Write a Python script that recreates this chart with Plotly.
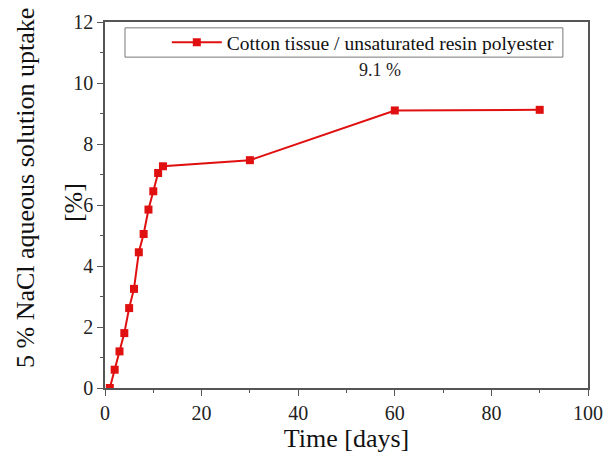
import plotly.graph_objects as go

days = [1, 2, 3, 4, 5, 6, 7, 8, 9, 10, 11, 12, 30, 60, 90]
uptake = [0.0, 0.6, 1.2, 1.8, 2.62, 3.25, 4.45, 5.05, 5.85, 6.45, 7.05, 7.27, 7.47, 9.1, 9.12]
series_name = "Cotton tissue / unsaturated resin polyester"
x_ticks = [0, 20, 40, 60, 80, 100]
y_ticks = [0, 2, 4, 6, 8, 10, 12]

RED = "#e01010"
AX = "#555555"
FONT = "'Times New Roman', 'Liberation Serif', 'DejaVu Serif', serif"

fig = go.Figure()
fig.add_trace(go.Scatter(
    x=days, y=uptake, mode="lines+markers", name=series_name,
    line=dict(color=RED, width=2),
    marker=dict(symbol="square", size=8, color=RED),
))

fig.add_annotation(x=60, y=9.1, xref="x", yref="y", text="9.1 %", showarrow=False,
                   xshift=-15, yshift=40, font=dict(family=FONT, size=18, color="#222"))
fig.add_annotation(x=-0.1656, y=0.5464, xref="paper", yref="paper", textangle=-90,
                   xanchor="center", yanchor="middle",
                   text="5 % NaCl aqueous solution uptake", showarrow=False,
                   font=dict(family=FONT, size=26, color="#111"))
fig.add_annotation(x=-0.0663, y=0.508, xref="paper", yref="paper", textangle=-90,
                   xanchor="center", yanchor="middle",
                   text="[%]", showarrow=False,
                   font=dict(family=FONT, size=26, color="#111"))

# legend frame
fig.add_shape(type="rect", xref="paper", yref="paper",
              x0=0.0414, x1=0.948, y0=0.904, y1=0.984,
              line=dict(color="#777", width=1), fillcolor="white", layer="below")

axis_common = dict(
    showline=True, linecolor=AX, linewidth=1.5, mirror=True,
    ticks="outside", ticklen=6, tickwidth=1.2, tickcolor=AX,
    showgrid=False, zeroline=False, automargin=False,
    tickfont=dict(family=FONT, size=20, color="#222"),
)

fig.update_xaxes(range=[0, 100], tickvals=x_ticks,
                 minor=dict(dtick=10, ticks="outside", ticklen=3, tickcolor=AX, tickwidth=1.2),
                 title=dict(text="Time [days]", font=dict(family=FONT, size=26, color="#111"), standoff=6),
                 **axis_common)
fig.update_yaxes(range=[0, 12], tickvals=y_ticks,
                 minor=dict(dtick=1, ticks="outside", ticklen=3, tickcolor=AX, tickwidth=1.2),
                 **axis_common)

fig.update_layout(
    width=603, height=454,
    margin=dict(l=105, r=15, t=22, b=66, autoexpand=False),
    paper_bgcolor="white", plot_bgcolor="white",
    showlegend=True,
    legend=dict(x=0.128, y=0.944, xanchor="left", yanchor="middle",
                borderwidth=0, bgcolor="rgba(0,0,0,0)",
                font=dict(family=FONT, size=19.5, color="#111"),
                itemwidth=50),
)

fig.write_html("out.html", config={"displayModeBar": False},
               post_script="document.body.style.margin='0';")
